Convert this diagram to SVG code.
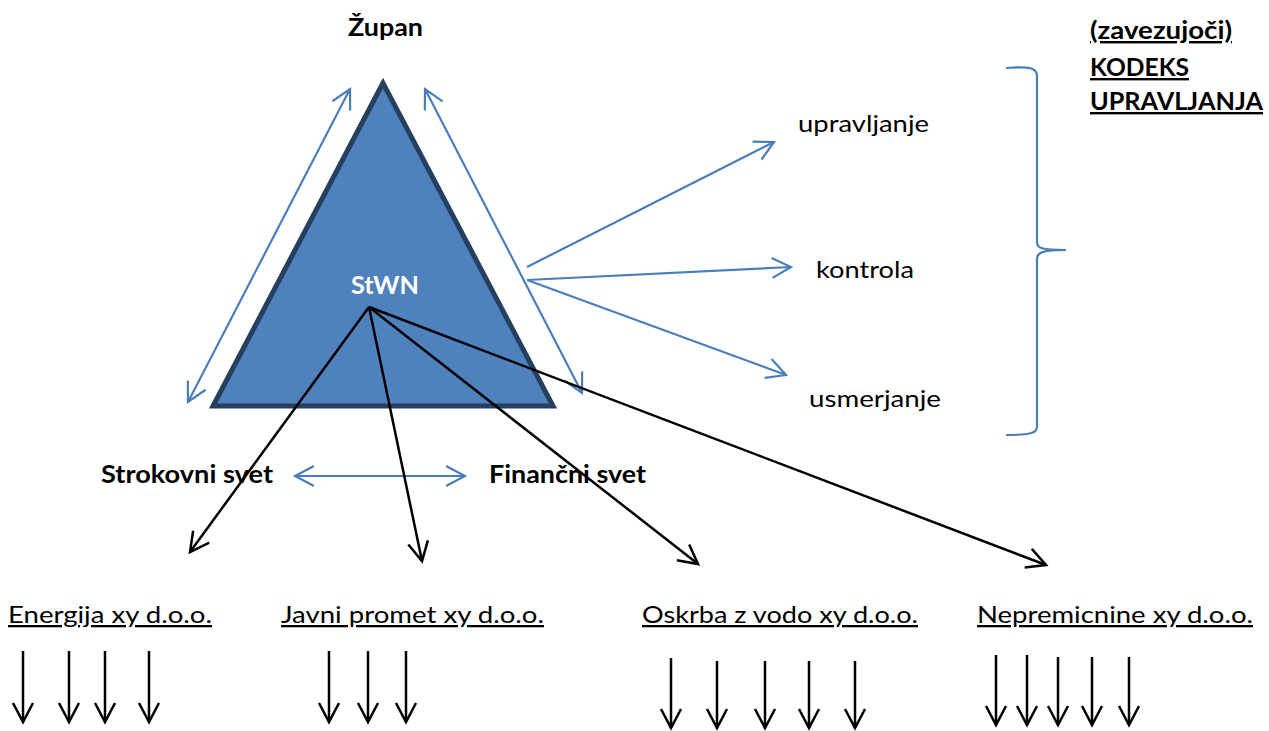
<svg xmlns="http://www.w3.org/2000/svg" width="1269" height="731" viewBox="0 0 1269 731">
<defs>
<style>
.t{font-family:Lato,"Open Sans","Liberation Sans",sans-serif;font-size:23px;fill:#000}
.b{font-family:Lato,"Open Sans","Liberation Sans",sans-serif;font-size:24px;font-weight:bold;fill:#000}
.u{text-decoration:underline}
.bl{stroke:#4a7ebb;stroke-width:2.2;fill:none}
.bk{stroke:#000;stroke-width:2.5;fill:none}
</style>
<marker id="ab" markerUnits="userSpaceOnUse" viewBox="-22 -14 26 28" refX="0" refY="0" markerWidth="26" markerHeight="28" orient="auto-start-reverse" overflow="visible">
<path d="M-19,-10 L0,0 L-19,10" fill="none" stroke="#4a7ebb" stroke-width="2.2"/>
</marker>
<marker id="ak" markerUnits="userSpaceOnUse" viewBox="-22 -14 26 28" refX="0" refY="0" markerWidth="26" markerHeight="28" orient="auto" overflow="visible">
<path d="M-19,-10 L0,0 L-19,10" fill="none" stroke="#000" stroke-width="2.5"/>
</marker>
</defs>
<rect width="1269" height="731" fill="#fff"/>

<g id="stwn">
<polygon points="383,83 213,406 553,406" fill="#4f81bd" stroke="#243f60" stroke-width="5" stroke-linejoin="miter"/>
<text x="351" y="294" class="b" style="fill:#fff;font-size:25px" textLength="68" lengthAdjust="spacingAndGlyphs">StWN</text>
</g>

<g id="zupan"><text x="348" y="36" class="b" textLength="75" lengthAdjust="spacingAndGlyphs">Župan</text></g>

<g id="upravljanje"><text x="798" y="132" class="t" textLength="131" lengthAdjust="spacingAndGlyphs">upravljanje</text></g>
<g id="kontrola"><text x="816" y="278" class="t" textLength="98" lengthAdjust="spacingAndGlyphs">kontrola</text></g>
<g id="usmerjanje"><text x="809" y="407" class="t" textLength="132" lengthAdjust="spacingAndGlyphs">usmerjanje</text></g>

<g id="kodeks">
<text x="1090" y="39" class="b u" textLength="142" lengthAdjust="spacingAndGlyphs">(zavezujoči)</text>
<text x="1090" y="76" class="b u" textLength="99" lengthAdjust="spacingAndGlyphs">KODEKS</text>
<text x="1090" y="110" class="b u" textLength="173" lengthAdjust="spacingAndGlyphs">UPRAVLJANJA</text>
</g>

<g id="strokovni"><text x="101" y="483" class="b" textLength="172" lengthAdjust="spacingAndGlyphs">Strokovni svet</text></g>
<g id="financni"><text x="489" y="483" class="b" textLength="157" lengthAdjust="spacingAndGlyphs">Finančni svet</text></g>

<g id="energija"><text x="8" y="623" class="t u" textLength="204" lengthAdjust="spacingAndGlyphs">Energija xy d.o.o.</text></g>
<g id="javni"><text x="281" y="623" class="t u" textLength="263" lengthAdjust="spacingAndGlyphs">Javni promet xy d.o.o.</text></g>
<g id="oskrba"><text x="642" y="623" class="t u" textLength="276" lengthAdjust="spacingAndGlyphs">Oskrba z vodo xy d.o.o.</text></g>
<g id="nepremicnine"><text x="977" y="623" class="t u" textLength="276" lengthAdjust="spacingAndGlyphs">Nepremicnine xy d.o.o.</text></g>

<g id="connectors">
<path class="bl" d="M188,402 L350,89" marker-start="url(#ab)" marker-end="url(#ab)"/>
<path class="bl" d="M425,89 L582,393" marker-start="url(#ab)" marker-end="url(#ab)"/>
<path class="bl" d="M527,267 L774,142" marker-end="url(#ab)"/>
<path class="bl" d="M527,280 L791,267" marker-end="url(#ab)"/>
<path class="bl" d="M527,280 L786,375" marker-end="url(#ab)"/>
<path class="bl" d="M295,476 L465,476" marker-start="url(#ab)" marker-end="url(#ab)"/>
<path class="bl" d="M1006,68 C1030,66 1037,68 1037,76 L1037,242 C1037,248 1041,250 1066,250 C1041,250 1037,253 1037,259 L1037,427 C1037,433 1030,435 1006,435"/>

<path class="bk" d="M369,307 L190,552" marker-end="url(#ak)"/>
<path class="bk" d="M369,307 L422,561" marker-end="url(#ak)"/>
<path class="bk" d="M369,307 L698,564" marker-end="url(#ak)"/>
<path class="bk" d="M369,307 L1046,565" marker-end="url(#ak)"/>

<path class="bk" d="M23,651 L23,722" marker-end="url(#ak)"/>
<path class="bk" d="M69,651 L69,722" marker-end="url(#ak)"/>
<path class="bk" d="M105,651 L105,722" marker-end="url(#ak)"/>
<path class="bk" d="M149,651 L149,722" marker-end="url(#ak)"/>

<path class="bk" d="M329,651 L329,722" marker-end="url(#ak)"/>
<path class="bk" d="M368,651 L368,722" marker-end="url(#ak)"/>
<path class="bk" d="M406,651 L406,722" marker-end="url(#ak)"/>

<path class="bk" d="M671,658 L671,728" marker-end="url(#ak)"/>
<path class="bk" d="M717,661 L717,728" marker-end="url(#ak)"/>
<path class="bk" d="M765,661 L765,728" marker-end="url(#ak)"/>
<path class="bk" d="M809,661 L809,728" marker-end="url(#ak)"/>
<path class="bk" d="M855,661 L855,728" marker-end="url(#ak)"/>

<path class="bk" d="M996,655 L996,725" marker-end="url(#ak)"/>
<path class="bk" d="M1027,655 L1027,725" marker-end="url(#ak)"/>
<path class="bk" d="M1058,657 L1058,725" marker-end="url(#ak)"/>
<path class="bk" d="M1092,657 L1092,725" marker-end="url(#ak)"/>
<path class="bk" d="M1129,657 L1129,725" marker-end="url(#ak)"/>
</g>
</svg>
